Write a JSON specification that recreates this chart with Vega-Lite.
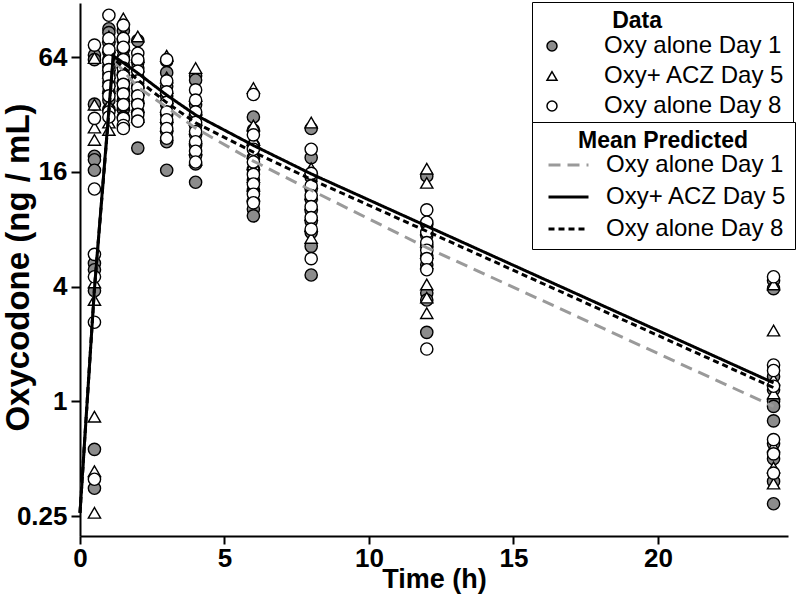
{
"$schema":"https://vega.github.io/schema/vega-lite/v6.json",
"width":708,"height":533,
"autosize":{"type":"none"},
"padding":{"left":80,"top":3,"right":12,"bottom":61},
"background":"white",
"config":{"view":{"stroke":null},"font":"Liberation Sans"},
"datasets":{
"obs":[
{"time":0.5,"conc":65.5,"series":"Oxy alone Day 1"},{"time":0.5,"conc":62,"series":"Oxy alone Day 1"},{"time":0.5,"conc":36.2,"series":"Oxy alone Day 1"},{"time":0.5,"conc":19.3,"series":"Oxy alone Day 1"},{"time":0.5,"conc":18.5,"series":"Oxy alone Day 1"},{"time":0.5,"conc":16.3,"series":"Oxy alone Day 1"},{"time":0.5,"conc":5.3,"series":"Oxy alone Day 1"},{"time":0.5,"conc":4.9,"series":"Oxy alone Day 1"},{"time":0.5,"conc":3.8,"series":"Oxy alone Day 1"},{"time":0.5,"conc":0.56,"series":"Oxy alone Day 1"},{"time":0.5,"conc":0.35,"series":"Oxy alone Day 1"},
{"time":0.5,"conc":63.2,"series":"Oxy+ ACZ Day 5"},{"time":0.5,"conc":36,"series":"Oxy+ ACZ Day 5"},{"time":0.5,"conc":27.3,"series":"Oxy+ ACZ Day 5"},{"time":0.5,"conc":23.5,"series":"Oxy+ ACZ Day 5"},{"time":0.5,"conc":4.2,"series":"Oxy+ ACZ Day 5"},{"time":0.5,"conc":3.4,"series":"Oxy+ ACZ Day 5"},{"time":0.5,"conc":0.83,"series":"Oxy+ ACZ Day 5"},{"time":0.5,"conc":0.43,"series":"Oxy+ ACZ Day 5"},{"time":0.5,"conc":0.26,"series":"Oxy+ ACZ Day 5"},
{"time":0.5,"conc":73.9,"series":"Oxy alone Day 8"},{"time":0.5,"conc":30.5,"series":"Oxy alone Day 8"},{"time":0.5,"conc":13.0,"series":"Oxy alone Day 8"},{"time":0.5,"conc":5.9,"series":"Oxy alone Day 8"},{"time":0.5,"conc":4.5,"series":"Oxy alone Day 8"},{"time":0.5,"conc":2.6,"series":"Oxy alone Day 8"},{"time":0.5,"conc":0.39,"series":"Oxy alone Day 8"},
{"time":1,"conc":90,"series":"Oxy alone Day 1"},{"time":1,"conc":86,"series":"Oxy alone Day 1"},{"time":1,"conc":76,"series":"Oxy alone Day 1"},{"time":1,"conc":68,"series":"Oxy alone Day 1"},{"time":1,"conc":62,"series":"Oxy alone Day 1"},{"time":1,"conc":57,"series":"Oxy alone Day 1"},{"time":1,"conc":52,"series":"Oxy alone Day 1"},{"time":1,"conc":47,"series":"Oxy alone Day 1"},{"time":1,"conc":42,"series":"Oxy alone Day 1"},{"time":1,"conc":38,"series":"Oxy alone Day 1"},{"time":1,"conc":34,"series":"Oxy alone Day 1"},
{"time":1,"conc":82,"series":"Oxy+ ACZ Day 5"},{"time":1,"conc":72,"series":"Oxy+ ACZ Day 5"},{"time":1,"conc":64,"series":"Oxy+ ACZ Day 5"},{"time":1,"conc":58,"series":"Oxy+ ACZ Day 5"},{"time":1,"conc":53,"series":"Oxy+ ACZ Day 5"},{"time":1,"conc":48,"series":"Oxy+ ACZ Day 5"},{"time":1,"conc":44,"series":"Oxy+ ACZ Day 5"},{"time":1,"conc":36,"series":"Oxy+ ACZ Day 5"},{"time":1,"conc":29,"series":"Oxy+ ACZ Day 5"},{"time":1,"conc":26.5,"series":"Oxy+ ACZ Day 5"},
{"time":1,"conc":106,"series":"Oxy alone Day 8"},{"time":1,"conc":80,"series":"Oxy alone Day 8"},{"time":1,"conc":70,"series":"Oxy alone Day 8"},{"time":1,"conc":61,"series":"Oxy alone Day 8"},{"time":1,"conc":55,"series":"Oxy alone Day 8"},{"time":1,"conc":50,"series":"Oxy alone Day 8"},{"time":1,"conc":45,"series":"Oxy alone Day 8"},{"time":1,"conc":40,"series":"Oxy alone Day 8"},{"time":1,"conc":33,"series":"Oxy alone Day 8"},{"time":1,"conc":31,"series":"Oxy alone Day 8"},
{"time":1.5,"conc":88,"series":"Oxy alone Day 1"},{"time":1.5,"conc":78,"series":"Oxy alone Day 1"},{"time":1.5,"conc":70,"series":"Oxy alone Day 1"},{"time":1.5,"conc":64,"series":"Oxy alone Day 1"},{"time":1.5,"conc":58,"series":"Oxy alone Day 1"},{"time":1.5,"conc":52,"series":"Oxy alone Day 1"},{"time":1.5,"conc":47,"series":"Oxy alone Day 1"},{"time":1.5,"conc":43,"series":"Oxy alone Day 1"},{"time":1.5,"conc":38,"series":"Oxy alone Day 1"},{"time":1.5,"conc":34,"series":"Oxy alone Day 1"},{"time":1.5,"conc":31,"series":"Oxy alone Day 1"},
{"time":1.5,"conc":102,"series":"Oxy+ ACZ Day 5"},{"time":1.5,"conc":85,"series":"Oxy+ ACZ Day 5"},{"time":1.5,"conc":74,"series":"Oxy+ ACZ Day 5"},{"time":1.5,"conc":66,"series":"Oxy+ ACZ Day 5"},{"time":1.5,"conc":60,"series":"Oxy+ ACZ Day 5"},{"time":1.5,"conc":55,"series":"Oxy+ ACZ Day 5"},{"time":1.5,"conc":50,"series":"Oxy+ ACZ Day 5"},{"time":1.5,"conc":45,"series":"Oxy+ ACZ Day 5"},{"time":1.5,"conc":40,"series":"Oxy+ ACZ Day 5"},{"time":1.5,"conc":36,"series":"Oxy+ ACZ Day 5"},
{"time":1.5,"conc":94,"series":"Oxy alone Day 8"},{"time":1.5,"conc":80,"series":"Oxy alone Day 8"},{"time":1.5,"conc":72,"series":"Oxy alone Day 8"},{"time":1.5,"conc":62,"series":"Oxy alone Day 8"},{"time":1.5,"conc":56,"series":"Oxy alone Day 8"},{"time":1.5,"conc":51,"series":"Oxy alone Day 8"},{"time":1.5,"conc":46,"series":"Oxy alone Day 8"},{"time":1.5,"conc":41,"series":"Oxy alone Day 8"},{"time":1.5,"conc":36,"series":"Oxy alone Day 8"},{"time":1.5,"conc":30.5,"series":"Oxy alone Day 8"},{"time":1.5,"conc":28,"series":"Oxy alone Day 8"},{"time":1.5,"conc":27,"series":"Oxy alone Day 8"},
{"time":2,"conc":78,"series":"Oxy alone Day 1"},{"time":2,"conc":60,"series":"Oxy alone Day 1"},{"time":2,"conc":56,"series":"Oxy alone Day 1"},{"time":2,"conc":50,"series":"Oxy alone Day 1"},{"time":2,"conc":45,"series":"Oxy alone Day 1"},{"time":2,"conc":41,"series":"Oxy alone Day 1"},{"time":2,"conc":37,"series":"Oxy alone Day 1"},{"time":2,"conc":33,"series":"Oxy alone Day 1"},{"time":2,"conc":30,"series":"Oxy alone Day 1"},{"time":2,"conc":21.3,"series":"Oxy alone Day 1"},
{"time":2,"conc":82,"series":"Oxy+ ACZ Day 5"},{"time":2,"conc":64,"series":"Oxy+ ACZ Day 5"},{"time":2,"conc":57,"series":"Oxy+ ACZ Day 5"},{"time":2,"conc":52,"series":"Oxy+ ACZ Day 5"},{"time":2,"conc":47,"series":"Oxy+ ACZ Day 5"},{"time":2,"conc":43,"series":"Oxy+ ACZ Day 5"},{"time":2,"conc":39,"series":"Oxy+ ACZ Day 5"},{"time":2,"conc":35,"series":"Oxy+ ACZ Day 5"},{"time":2,"conc":31,"series":"Oxy+ ACZ Day 5"},
{"time":2,"conc":67,"series":"Oxy alone Day 8"},{"time":2,"conc":62,"series":"Oxy alone Day 8"},{"time":2,"conc":54,"series":"Oxy alone Day 8"},{"time":2,"conc":48,"series":"Oxy alone Day 8"},{"time":2,"conc":44,"series":"Oxy alone Day 8"},{"time":2,"conc":40,"series":"Oxy alone Day 8"},{"time":2,"conc":36,"series":"Oxy alone Day 8"},{"time":2,"conc":32,"series":"Oxy alone Day 8"},{"time":2,"conc":29.5,"series":"Oxy alone Day 8"},
{"time":3,"conc":61,"series":"Oxy alone Day 1"},{"time":3,"conc":53,"series":"Oxy alone Day 1"},{"time":3,"conc":45,"series":"Oxy alone Day 1"},{"time":3,"conc":40,"series":"Oxy alone Day 1"},{"time":3,"conc":36,"series":"Oxy alone Day 1"},{"time":3,"conc":32,"series":"Oxy alone Day 1"},{"time":3,"conc":29,"series":"Oxy alone Day 1"},{"time":3,"conc":26,"series":"Oxy alone Day 1"},{"time":3,"conc":23,"series":"Oxy alone Day 1"},{"time":3,"conc":16.3,"series":"Oxy alone Day 1"},
{"time":3,"conc":65,"series":"Oxy+ ACZ Day 5"},{"time":3,"conc":50,"series":"Oxy+ ACZ Day 5"},{"time":3,"conc":44,"series":"Oxy+ ACZ Day 5"},{"time":3,"conc":39,"series":"Oxy+ ACZ Day 5"},{"time":3,"conc":35,"series":"Oxy+ ACZ Day 5"},{"time":3,"conc":31,"series":"Oxy+ ACZ Day 5"},{"time":3,"conc":28,"series":"Oxy+ ACZ Day 5"},{"time":3,"conc":25,"series":"Oxy+ ACZ Day 5"},
{"time":3,"conc":62,"series":"Oxy alone Day 8"},{"time":3,"conc":48,"series":"Oxy alone Day 8"},{"time":3,"conc":42,"series":"Oxy alone Day 8"},{"time":3,"conc":37,"series":"Oxy alone Day 8"},{"time":3,"conc":33,"series":"Oxy alone Day 8"},{"time":3,"conc":30,"series":"Oxy alone Day 8"},{"time":3,"conc":27,"series":"Oxy alone Day 8"},{"time":3,"conc":24,"series":"Oxy alone Day 8"},
{"time":4,"conc":51,"series":"Oxy alone Day 1"},{"time":4,"conc":48.5,"series":"Oxy alone Day 1"},{"time":4,"conc":36,"series":"Oxy alone Day 1"},{"time":4,"conc":32,"series":"Oxy alone Day 1"},{"time":4,"conc":28,"series":"Oxy alone Day 1"},{"time":4,"conc":25,"series":"Oxy alone Day 1"},{"time":4,"conc":22,"series":"Oxy alone Day 1"},{"time":4,"conc":19.5,"series":"Oxy alone Day 1"},{"time":4,"conc":17.6,"series":"Oxy alone Day 1"},{"time":4,"conc":14.1,"series":"Oxy alone Day 1"},
{"time":4,"conc":56,"series":"Oxy+ ACZ Day 5"},{"time":4,"conc":40,"series":"Oxy+ ACZ Day 5"},{"time":4,"conc":34,"series":"Oxy+ ACZ Day 5"},{"time":4,"conc":30,"series":"Oxy+ ACZ Day 5"},{"time":4,"conc":27,"series":"Oxy+ ACZ Day 5"},{"time":4,"conc":24,"series":"Oxy+ ACZ Day 5"},{"time":4,"conc":21,"series":"Oxy+ ACZ Day 5"},{"time":4,"conc":18.5,"series":"Oxy+ ACZ Day 5"},
{"time":4,"conc":43,"series":"Oxy alone Day 8"},{"time":4,"conc":38,"series":"Oxy alone Day 8"},{"time":4,"conc":33,"series":"Oxy alone Day 8"},{"time":4,"conc":29,"series":"Oxy alone Day 8"},{"time":4,"conc":26,"series":"Oxy alone Day 8"},{"time":4,"conc":23,"series":"Oxy alone Day 8"},{"time":4,"conc":20.5,"series":"Oxy alone Day 8"},{"time":4,"conc":18,"series":"Oxy alone Day 8"},
{"time":6,"conc":31,"series":"Oxy alone Day 1"},{"time":6,"conc":26.5,"series":"Oxy alone Day 1"},{"time":6,"conc":22,"series":"Oxy alone Day 1"},{"time":6,"conc":19,"series":"Oxy alone Day 1"},{"time":6,"conc":16.5,"series":"Oxy alone Day 1"},{"time":6,"conc":14.5,"series":"Oxy alone Day 1"},{"time":6,"conc":12.8,"series":"Oxy alone Day 1"},{"time":6,"conc":11.2,"series":"Oxy alone Day 1"},{"time":6,"conc":10.2,"series":"Oxy alone Day 1"},{"time":6,"conc":9.4,"series":"Oxy alone Day 1"},
{"time":6,"conc":44,"series":"Oxy+ ACZ Day 5"},{"time":6,"conc":28,"series":"Oxy+ ACZ Day 5"},{"time":6,"conc":23.5,"series":"Oxy+ ACZ Day 5"},{"time":6,"conc":20,"series":"Oxy+ ACZ Day 5"},{"time":6,"conc":17.5,"series":"Oxy+ ACZ Day 5"},{"time":6,"conc":15,"series":"Oxy+ ACZ Day 5"},{"time":6,"conc":13.5,"series":"Oxy+ ACZ Day 5"},{"time":6,"conc":12,"series":"Oxy+ ACZ Day 5"},
{"time":6,"conc":40.7,"series":"Oxy alone Day 8"},{"time":6,"conc":25,"series":"Oxy alone Day 8"},{"time":6,"conc":21,"series":"Oxy alone Day 8"},{"time":6,"conc":18,"series":"Oxy alone Day 8"},{"time":6,"conc":15.5,"series":"Oxy alone Day 8"},{"time":6,"conc":13.8,"series":"Oxy alone Day 8"},{"time":6,"conc":12.2,"series":"Oxy alone Day 8"},{"time":6,"conc":11,"series":"Oxy alone Day 8"},
{"time":8,"conc":27,"series":"Oxy alone Day 1"},{"time":8,"conc":19,"series":"Oxy alone Day 1"},{"time":8,"conc":15,"series":"Oxy alone Day 1"},{"time":8,"conc":13,"series":"Oxy alone Day 1"},{"time":8,"conc":11.5,"series":"Oxy alone Day 1"},{"time":8,"conc":10,"series":"Oxy alone Day 1"},{"time":8,"conc":8.8,"series":"Oxy alone Day 1"},{"time":8,"conc":7.7,"series":"Oxy alone Day 1"},{"time":8,"conc":6.5,"series":"Oxy alone Day 1"},{"time":8,"conc":4.6,"series":"Oxy alone Day 1"},
{"time":8,"conc":29,"series":"Oxy+ ACZ Day 5"},{"time":8,"conc":16.7,"series":"Oxy+ ACZ Day 5"},{"time":8,"conc":14,"series":"Oxy+ ACZ Day 5"},{"time":8,"conc":12.2,"series":"Oxy+ ACZ Day 5"},{"time":8,"conc":10.8,"series":"Oxy+ ACZ Day 5"},{"time":8,"conc":9.5,"series":"Oxy+ ACZ Day 5"},{"time":8,"conc":8.3,"series":"Oxy+ ACZ Day 5"},{"time":8,"conc":7.2,"series":"Oxy+ ACZ Day 5"},
{"time":8,"conc":21,"series":"Oxy alone Day 8"},{"time":8,"conc":15.7,"series":"Oxy alone Day 8"},{"time":8,"conc":13.5,"series":"Oxy alone Day 8"},{"time":8,"conc":12,"series":"Oxy alone Day 8"},{"time":8,"conc":10.5,"series":"Oxy alone Day 8"},{"time":8,"conc":9.2,"series":"Oxy alone Day 8"},{"time":8,"conc":8,"series":"Oxy alone Day 8"},{"time":8,"conc":5.6,"series":"Oxy alone Day 8"},
{"time":12,"conc":15.2,"series":"Oxy alone Day 1"},{"time":12,"conc":8.5,"series":"Oxy alone Day 1"},{"time":12,"conc":7.4,"series":"Oxy alone Day 1"},{"time":12,"conc":6.6,"series":"Oxy alone Day 1"},{"time":12,"conc":5.8,"series":"Oxy alone Day 1"},{"time":12,"conc":5.2,"series":"Oxy alone Day 1"},{"time":12,"conc":3.7,"series":"Oxy alone Day 1"},{"time":12,"conc":3.4,"series":"Oxy alone Day 1"},{"time":12,"conc":2.3,"series":"Oxy alone Day 1"},
{"time":12,"conc":16.6,"series":"Oxy+ ACZ Day 5"},{"time":12,"conc":14.0,"series":"Oxy+ ACZ Day 5"},{"time":12,"conc":8,"series":"Oxy+ ACZ Day 5"},{"time":12,"conc":6.9,"series":"Oxy+ ACZ Day 5"},{"time":12,"conc":6,"series":"Oxy+ ACZ Day 5"},{"time":12,"conc":5.3,"series":"Oxy+ ACZ Day 5"},{"time":12,"conc":4.1,"series":"Oxy+ ACZ Day 5"},{"time":12,"conc":3.5,"series":"Oxy+ ACZ Day 5"},{"time":12,"conc":2.9,"series":"Oxy+ ACZ Day 5"},
{"time":12,"conc":10.1,"series":"Oxy alone Day 8"},{"time":12,"conc":8.7,"series":"Oxy alone Day 8"},{"time":12,"conc":7.7,"series":"Oxy alone Day 8"},{"time":12,"conc":6.8,"series":"Oxy alone Day 8"},{"time":12,"conc":6.2,"series":"Oxy alone Day 8"},{"time":12,"conc":5.6,"series":"Oxy alone Day 8"},{"time":12,"conc":4.9,"series":"Oxy alone Day 8"},{"time":12,"conc":1.88,"series":"Oxy alone Day 8"},
{"time":24,"conc":4.3,"series":"Oxy alone Day 1"},{"time":24,"conc":3.9,"series":"Oxy alone Day 1"},{"time":24,"conc":1.35,"series":"Oxy alone Day 1"},{"time":24,"conc":1.15,"series":"Oxy alone Day 1"},{"time":24,"conc":1.0,"series":"Oxy alone Day 1"},{"time":24,"conc":0.94,"series":"Oxy alone Day 1"},{"time":24,"conc":0.79,"series":"Oxy alone Day 1"},{"time":24,"conc":0.6,"series":"Oxy alone Day 1"},{"time":24,"conc":0.5,"series":"Oxy alone Day 1"},{"time":24,"conc":0.38,"series":"Oxy alone Day 1"},{"time":24,"conc":0.29,"series":"Oxy alone Day 1"},
{"time":24,"conc":4.1,"series":"Oxy+ ACZ Day 5"},{"time":24,"conc":2.35,"series":"Oxy+ ACZ Day 5"},{"time":24,"conc":1.3,"series":"Oxy+ ACZ Day 5"},{"time":24,"conc":1.1,"series":"Oxy+ ACZ Day 5"},{"time":24,"conc":0.58,"series":"Oxy+ ACZ Day 5"},{"time":24,"conc":0.45,"series":"Oxy+ ACZ Day 5"},{"time":24,"conc":0.37,"series":"Oxy+ ACZ Day 5"},
{"time":24,"conc":4.5,"series":"Oxy alone Day 8"},{"time":24,"conc":1.55,"series":"Oxy alone Day 8"},{"time":24,"conc":1.45,"series":"Oxy alone Day 8"},{"time":24,"conc":1.2,"series":"Oxy alone Day 8"},{"time":24,"conc":0.63,"series":"Oxy alone Day 8"},{"time":24,"conc":0.53,"series":"Oxy alone Day 8"},{"time":24,"conc":0.42,"series":"Oxy alone Day 8"}
],
"pred":[
{"time":0,"conc":0.26,"model":"Oxy alone Day 1"},{"time":0.5,"conc":3.9,"model":"Oxy alone Day 1"},{"time":1.15,"conc":62,"model":"Oxy alone Day 1"},{"time":2,"conc":44.5,"model":"Oxy alone Day 1"},{"time":3,"conc":34.9,"model":"Oxy alone Day 1"},{"time":4,"conc":27.1,"model":"Oxy alone Day 1"},{"time":6,"conc":18.2,"model":"Oxy alone Day 1"},{"time":8,"conc":12.8,"model":"Oxy alone Day 1"},{"time":12,"conc":6.4,"model":"Oxy alone Day 1"},{"time":24,"conc":0.94,"model":"Oxy alone Day 1"},
{"time":0,"conc":0.26,"model":"Oxy+ ACZ Day 5"},{"time":0.5,"conc":3.9,"model":"Oxy+ ACZ Day 5"},{"time":1.15,"conc":65,"model":"Oxy+ ACZ Day 5"},{"time":2,"conc":52.7,"model":"Oxy+ ACZ Day 5"},{"time":3,"conc":40.4,"model":"Oxy+ ACZ Day 5"},{"time":4,"conc":31.8,"model":"Oxy+ ACZ Day 5"},{"time":6,"conc":22,"model":"Oxy+ ACZ Day 5"},{"time":8,"conc":15.6,"model":"Oxy+ ACZ Day 5"},{"time":12,"conc":8.3,"model":"Oxy+ ACZ Day 5"},{"time":24,"conc":1.25,"model":"Oxy+ ACZ Day 5"},
{"time":0,"conc":0.26,"model":"Oxy alone Day 8"},{"time":0.5,"conc":3.9,"model":"Oxy alone Day 8"},{"time":1.15,"conc":63,"model":"Oxy alone Day 8"},{"time":2,"conc":48.6,"model":"Oxy alone Day 8"},{"time":3,"conc":36.9,"model":"Oxy alone Day 8"},{"time":4,"conc":28.9,"model":"Oxy alone Day 8"},{"time":6,"conc":20.3,"model":"Oxy alone Day 8"},{"time":8,"conc":14.6,"model":"Oxy alone Day 8"},{"time":12,"conc":7.8,"model":"Oxy alone Day 8"},{"time":24,"conc":1.18,"model":"Oxy alone Day 8"}
]
},
"layer":[
{"data":{"name":"obs"},
 "mark":{"type":"point","filled":true,"stroke":"black","strokeWidth":1.4,"size":150,"opacity":1},
 "encoding":{
  "x":{"field":"time","type":"quantitative","scale":{"domain":[0,24.5],"nice":false,"zero":false},
   "axis":{"values":[0,5,10,15,20],"title":"Time (h)","grid":false,"labelFontSize":26,"labelFontWeight":"bold","labelColor":"black","labelPadding":1,"labelFlush":false,"labelOverlap":false,"tickSize":8,"tickWidth":2,"tickColor":"black","domainColor":"black","domainWidth":2,"titleFontSize":27,"titleFontWeight":"bold","titleColor":"black","titleBaseline":"alphabetic","titleY":51}},
  "y":{"field":"conc","type":"quantitative","scale":{"type":"log","base":2,"domain":[0.1965,122.9],"nice":false},
   "axis":{"values":[0.25,1,4,16,64],"labelExpr":"datum.value == 0.25 ? '0.25' : format(datum.value, 'd')","title":"Oxycodone (ng / mL)","grid":false,"labelFontSize":26,"labelFontWeight":"bold","labelColor":"black","labelPadding":4,"labelOverlap":false,"labelFlush":false,"tickSize":9,"tickWidth":2,"tickColor":"black","domainColor":"black","domainWidth":2,"titleFontSize":33,"titleFontWeight":"bold","titleColor":"black","titleBaseline":"alphabetic","titleAlign":"center","titleX":-52,"titleY":264}},
  "shape":{"field":"series","type":"nominal","scale":{"domain":["Oxy alone Day 1","Oxy+ ACZ Day 5","Oxy alone Day 8"],"range":["circle","triangle-up","circle"]},
   "legend":{"title":"Data","orient":"none","legendX":452,"legendY":-1,"direction":"vertical","padding":8,"strokeColor":"black","fillColor":"white","titleFontSize":23,"titleFontWeight":"bold","titleColor":"black","titleAnchor":"middle","titleAlign":"right","titlePadding":3,"labelFontSize":24,"labelColor":"black","labelLimit":300,"symbolSize":100,"symbolStrokeWidth":1.5,"labelOffset":40,"clipHeight":20,"rowPadding":6,
    "encode":{"symbols":{"shape":{"signal":"datum.value === 'Oxy+ ACZ Day 5' ? 'triangle-down' : 'circle'"}}}}},
  "color":{"field":"series","type":"nominal","scale":{"domain":["Oxy alone Day 1","Oxy+ ACZ Day 5","Oxy alone Day 8"],"range":["#8c8c8c","white","white"]},
   "legend":{"title":"Data","orient":"none","legendX":452,"legendY":-1,"direction":"vertical","padding":8,"strokeColor":"black","fillColor":"white","titleFontSize":23,"titleFontWeight":"bold","titleColor":"black","titleAnchor":"middle","titleAlign":"right","titlePadding":3,"labelFontSize":24,"labelColor":"black","labelLimit":300,"symbolSize":100,"symbolStrokeWidth":1.5,"labelOffset":40,"clipHeight":20,"rowPadding":6}}
 }},
{"data":{"name":"pred"},
 "mark":{"type":"line","strokeWidth":3},
 "encoding":{
  "x":{"field":"time","type":"quantitative"},
  "y":{"field":"conc","type":"quantitative"},
  "stroke":{"field":"model","type":"nominal","scale":{"domain":["Oxy alone Day 1","Oxy alone Day 8","Oxy+ ACZ Day 5"],"range":["#9a9a9a","black","black"]},
   "legend":{"title":"Mean Predicted","values":["Oxy alone Day 1","Oxy+ ACZ Day 5","Oxy alone Day 8"],"orient":"none","legendX":452,"legendY":119,"direction":"vertical","padding":8,"strokeColor":"black","fillColor":"white","titleFontSize":23,"titleFontWeight":"bold","titleColor":"black","titleAnchor":"middle","titlePadding":1,"labelFontSize":24,"labelColor":"black","labelLimit":300,"symbolType":"stroke","symbolSize":1600,"symbolStrokeWidth":3,"symbolOffset":7,"labelOffset":16,"clipHeight":22,"rowPadding":8}},
  "strokeDash":{"field":"model","type":"nominal","scale":{"domain":["Oxy alone Day 1","Oxy alone Day 8","Oxy+ ACZ Day 5"],"range":[[12,7],[6,4],[1,0]]},
   "legend":{"title":"Mean Predicted","values":["Oxy alone Day 1","Oxy+ ACZ Day 5","Oxy alone Day 8"],"orient":"none","legendX":452,"legendY":119,"direction":"vertical","padding":8,"strokeColor":"black","fillColor":"white","titleFontSize":23,"titleFontWeight":"bold","titleColor":"black","titleAnchor":"middle","titlePadding":1,"labelFontSize":24,"labelColor":"black","labelLimit":300,"symbolType":"stroke","symbolSize":1600,"symbolStrokeWidth":3,"symbolOffset":7,"labelOffset":16,"clipHeight":22,"rowPadding":8}}
 }}
]
}
